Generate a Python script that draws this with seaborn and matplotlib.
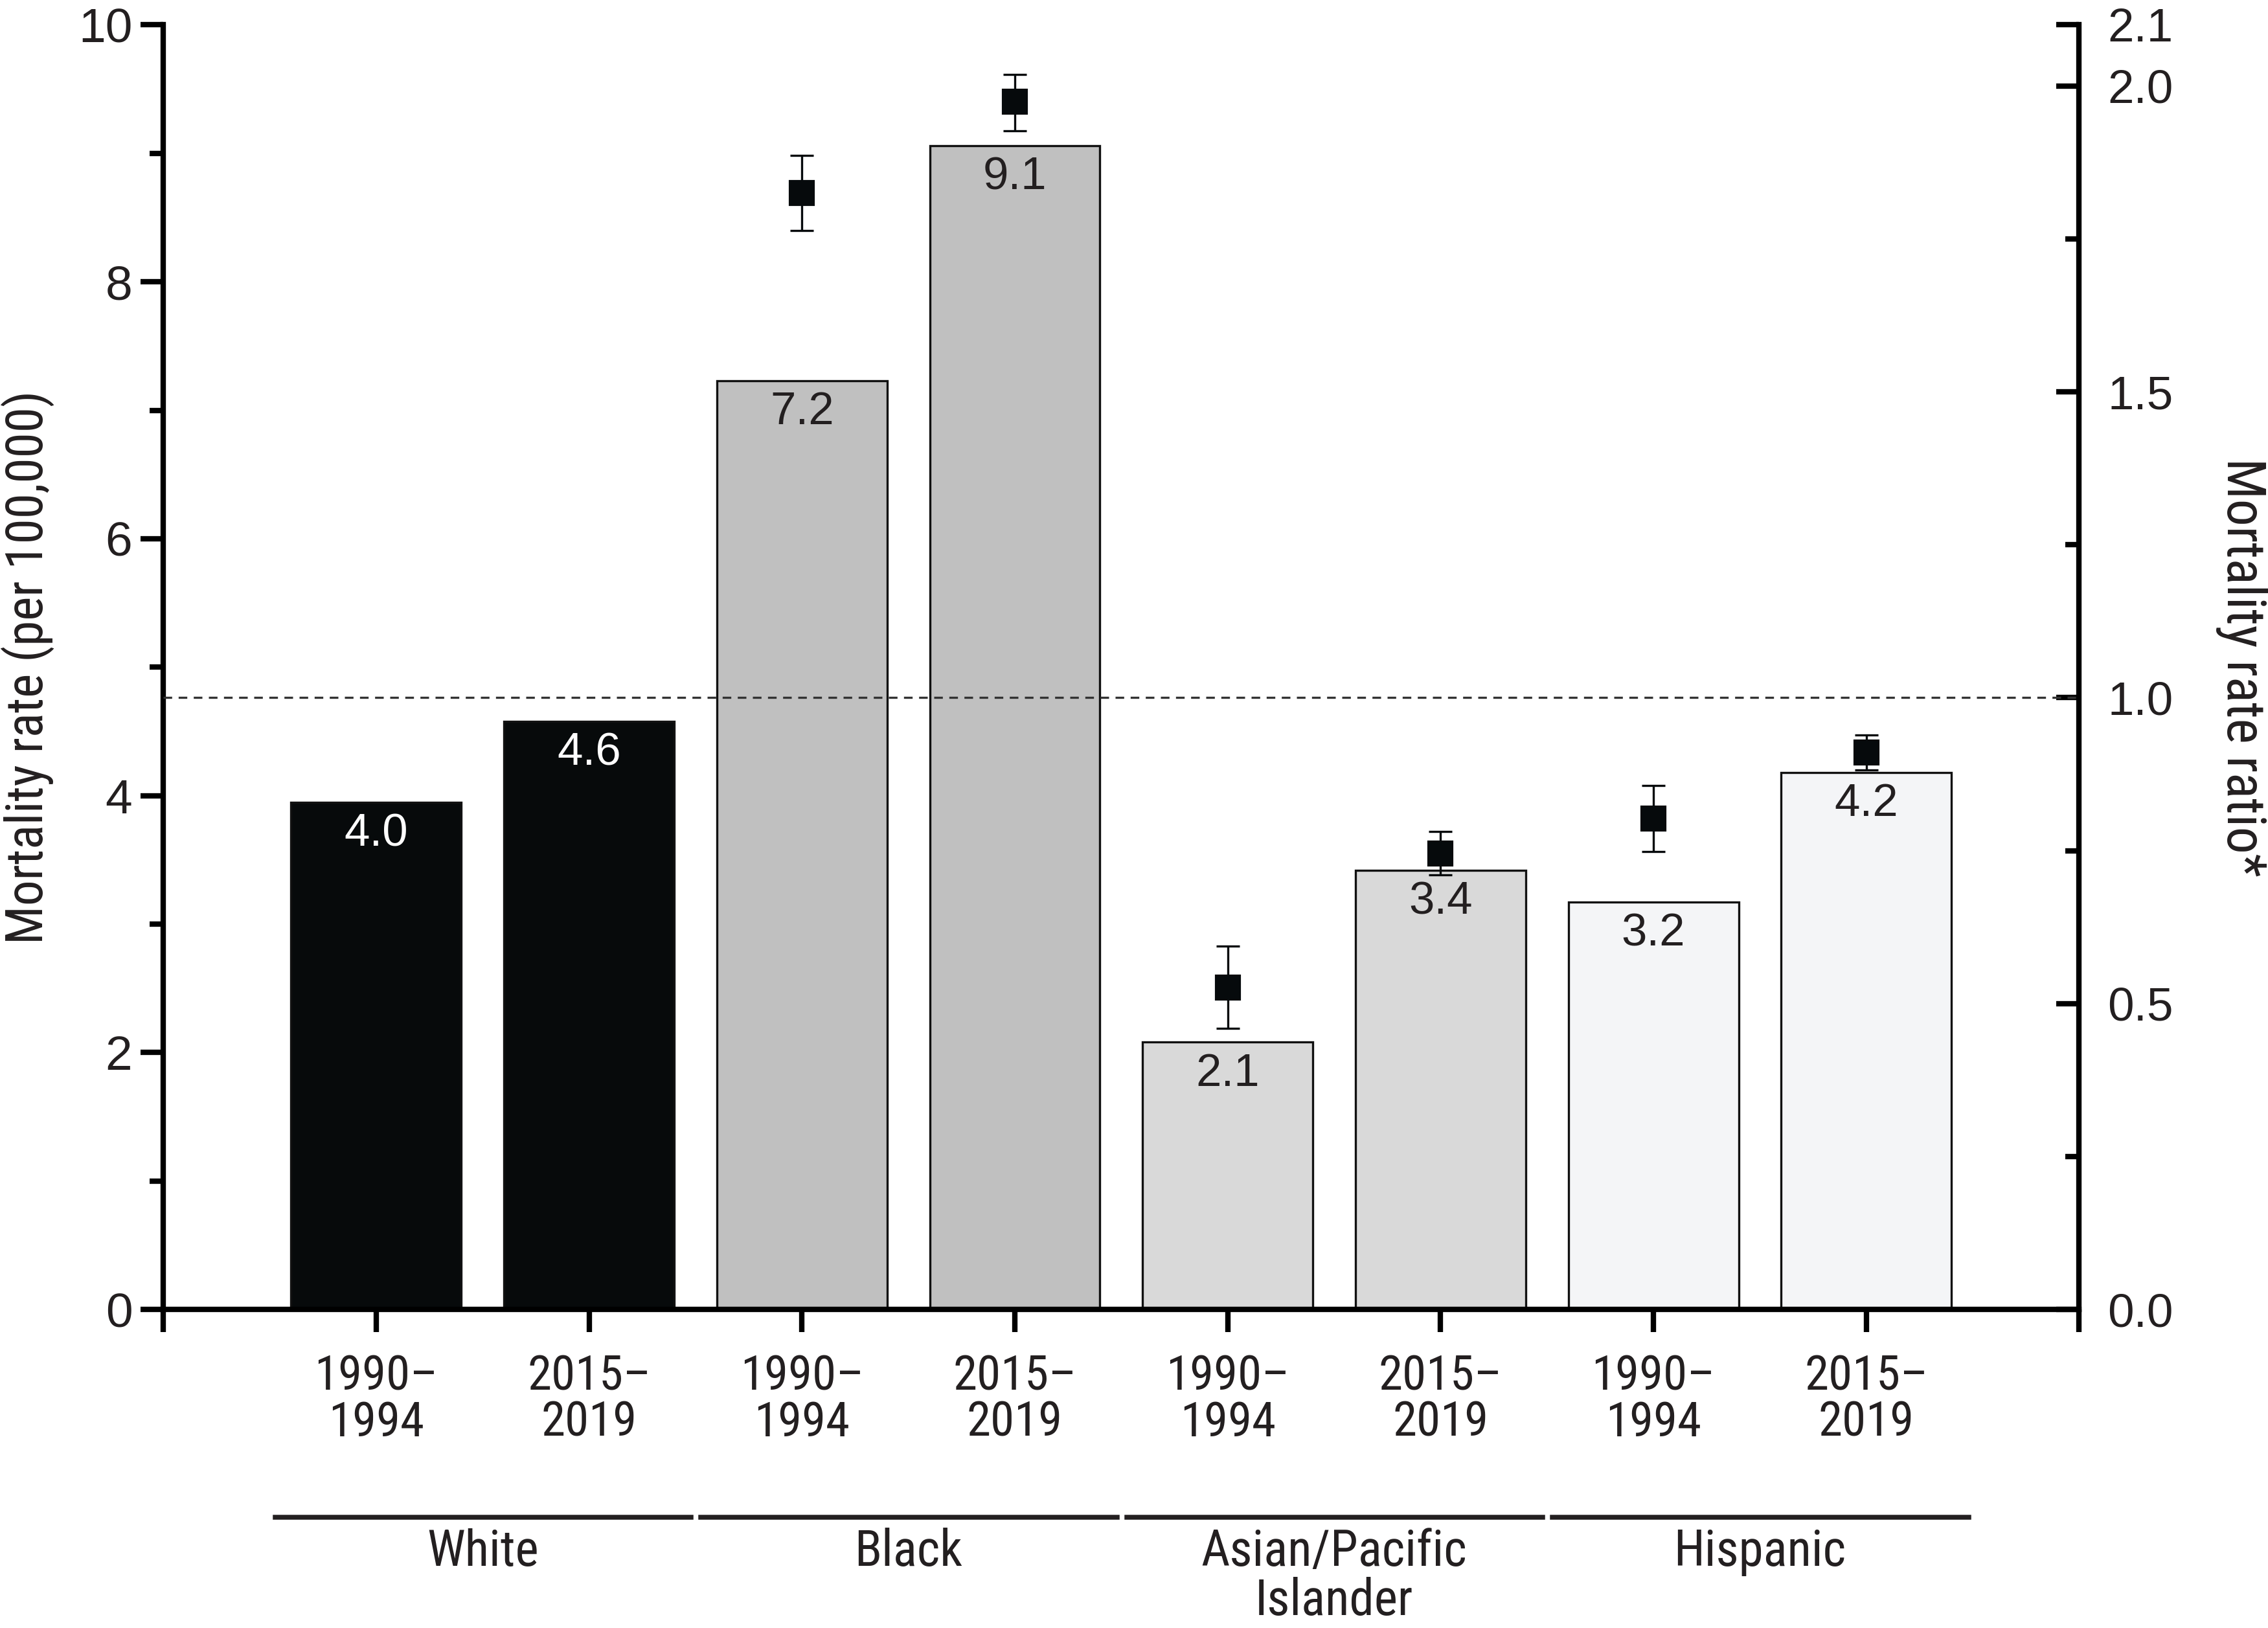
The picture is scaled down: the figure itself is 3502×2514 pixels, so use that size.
# cargar librerias
import numpy as np
import pandas as pd
import seaborn as sns
import matplotlib.pyplot as plt
from matplotlib import font_manager
from matplotlib.ticker import MultipleLocator, FixedLocator

# datos
grupos = ["White", "Black", "Asian/Pacific\nIslander", "Hispanic"]
periodos = ["1990–\n1994", "2015–\n2019"]
tasas = [3.95, 4.58, 7.23, 9.06, 2.08, 3.42, 3.17, 4.18]
etiquetas = ["4.0", "4.6", "7.2", "9.1", "2.1", "3.4", "3.2", "4.2"]
colores = ["#060a0c", "#c0c0c0", "#d9d9d9", "#f4f5f7"]

# razon de tasas (vs White) para los grupos no blancos
razon_idx = [2, 3, 4, 5, 6, 7]
razon = [1.825, 1.974, 0.526, 0.745, 0.802, 0.910]
razon_lo = [1.764, 1.927, 0.460, 0.710, 0.748, 0.882]
razon_hi = [1.887, 2.019, 0.594, 0.781, 0.856, 0.939]

texto = "#231f20"
plt.rcParams["font.family"] = ["Liberation Sans", "DejaVu Sans"]

# fuente estrecha si existe (tipo Helvetica Condensed)
instaladas = {f.name for f in font_manager.fontManager.ttflist}
narrow_name = None
for cand in ["Liberation Sans Narrow", "Arial Narrow", "Roboto Condensed",
             "Open Sans Condensed", "DejaVu Sans Condensed"]:
    if cand in instaladas:
        narrow_name = cand
        break
if narrow_name:
    narrow = dict(family=[narrow_name, "DejaVu Sans"])
    esc = 1.0
else:
    narrow = dict(family=["Liberation Sans", "DejaVu Sans"])
    esc = 0.85

df = pd.DataFrame({
    "slot": [f"{g} {p}" for g in grupos for p in periodos],
    "grupo": [g for g in grupos for p in periodos],
    "tasa": tasas,
})

fig = plt.figure(figsize=(3503 / 300, 2514 / 300), dpi=300)
ax = fig.add_axes([0.072, 0.1957, 0.8445, 0.789])

sns.barplot(data=df, x="slot", y="tasa", hue="grupo", palette=colores,
            dodge=False, legend=False, width=0.8, edgecolor="#111111",
            linewidth=0.8, ax=ax)

ax.set_xlim(-1, 8)
ax.set_ylim(0, 10)
ax.set_xlabel("")
ax.set_ylabel("Mortality rate (per 100,000)", fontsize=19 * esc, color=texto,
              **narrow)
ax.yaxis.set_label_coords(-0.057, 0.5)

# ticks eje x (incluye extremos para prolongar los ejes)
ax.xaxis.set_major_locator(FixedLocator(np.arange(-1, 9)))
ax.set_xticklabels([""] + [p for g in grupos for p in periodos] + [""],
                   fontsize=18 * esc, color=texto, linespacing=1.0, **narrow)
ax.tick_params(axis="x", length=8.5, width=2, pad=8)
ax.yaxis.set_major_locator(MultipleLocator(2))
ax.yaxis.set_minor_locator(MultipleLocator(1))
ax.tick_params(axis="y", which="major", length=8.5, width=2, labelsize=18,
               labelcolor=texto, pad=3)
ax.tick_params(axis="y", which="minor", length=5, width=2)

for s in ["left", "bottom"]:
    ax.spines[s].set_linewidth(2)
    ax.spines[s].set_color("black")
ax.spines["top"].set_visible(False)
ax.spines["right"].set_visible(False)

# etiquetas de valor
for i, (h, lab) in enumerate(zip(tasas, etiquetas)):
    c = "white" if i < 2 else texto
    ax.text(i, h - 0.25, lab, ha="center", va="center", fontsize=17, color=c)

# eje derecho: razon de tasas
ax2 = ax.twinx()
ax2.set_ylim(0, 2.1)
ax2.axhline(1.0, color="#333333", lw=0.8, ls=(0, (4, 3)))
yerr = [np.array(razon) - np.array(razon_lo), np.array(razon_hi) - np.array(razon)]
ax2.errorbar(razon_idx, razon, yerr=yerr, fmt="s", color="#060a0c",
             markersize=8.5, elinewidth=0.8, capsize=4.3, capthick=0.8)
ax2.yaxis.set_major_locator(FixedLocator([0, 0.5, 1.0, 1.5, 2.0, 2.1]))
ax2.yaxis.set_minor_locator(FixedLocator([0.25, 0.75, 1.25, 1.75]))
ax2.set_yticklabels(["0.0", "0.5", "1.0", "1.5", "2.0", "2.1"])
ax2.tick_params(axis="y", which="major", direction="in", length=8.5, width=2,
                labelsize=17.5, labelcolor=texto, pad=10.5)
ax2.tick_params(axis="y", which="minor", direction="in", length=5, width=2)
ax2.set_ylabel("Mortality rate ratio*", fontsize=20 * esc, color=texto,
               rotation=270, va="center", **narrow)
ax2.yaxis.set_label_coords(1.085, 0.5)
ax2.spines["right"].set_linewidth(2)
ax2.spines["right"].set_color("black")
for s in ["top", "left", "bottom"]:
    ax2.spines[s].set_visible(False)

# lineas y nombres de grupo bajo el eje
for k, g in enumerate(grupos):
    c = 2 * k + 0.5
    ax.plot([c - 0.975, c + 0.98], [-0.162, -0.162], color=texto, lw=1.8,
            transform=ax.get_xaxis_transform(), clip_on=False)
    ax.text(c, -0.170, g, ha="center", va="top", fontsize=18.5 * esc,
            color=texto, linespacing=1.02,
            transform=ax.get_xaxis_transform(), **narrow)

fig.savefig("out.png", dpi=300)
plt.close(fig)
